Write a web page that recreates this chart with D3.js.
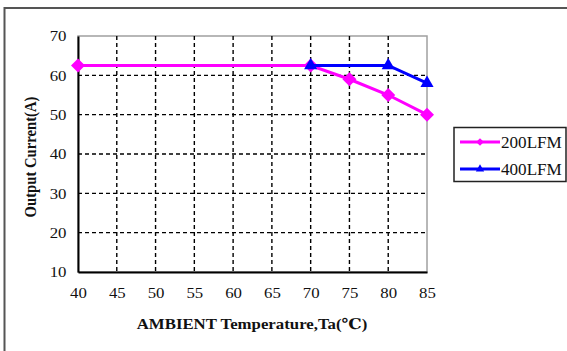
<!DOCTYPE html>
<html>
<head>
<meta charset="utf-8">
<script src="https://cdn.jsdelivr.net/npm/d3@7"></script>
<style>
  html, body { margin: 0; padding: 0; background: #fff; }
  svg { display: block; }
  svg text { font-family: 'Liberation Serif', 'Times New Roman', Times, 'DejaVu Serif', serif !important; fill: #111; }
</style>
</head>
<body>
<script>
// Ambient temperature categories (°C)
const temps = [40, 45, 50, 55, 60, 65, 70, 75, 80, 85];
// Output current (A) per airflow; null where no point is plotted
const lfm200 = [62.5, null, null, null, null, null, 62.5, 59, 55, 50];
const lfm400 = [null, null, null, null, null, null, 62.5, null, 62.5, 58];
const yTicks = [10, 20, 30, 40, 50, 60, 70];
const seriesNames = ["200LFM", "400LFM"];

const W = 567, H = 351;
const plot = { left: 78, right: 427, top: 36, bottom: 272 };
const FONT = "'Liberation Serif', 'Times New Roman', Times, 'DejaVu Serif', serif";
const STRETCH = "scale(1.12,1)"; // glyphs are slightly wider than tall

// square diamond marker (rotated square)
const squareDiamond = {
  draw(ctx, size) {
    const r = Math.sqrt(size / 2);
    ctx.moveTo(0, -r); ctx.lineTo(r, 0); ctx.lineTo(0, r); ctx.lineTo(-r, 0); ctx.closePath();
  }
};

const svg = d3.select("body").append("svg").attr("width", W).attr("height", H)
  .style("font-family", FONT);

// outer chart frame
svg.append("rect")
  .attr("x", 4.5).attr("y", 8)
  .attr("width", W + 10).attr("height", H + 10)
  .attr("fill", "#fff").attr("stroke", "#555").attr("stroke-width", 2);

const x = d3.scalePoint().domain(temps).range([plot.left, plot.right]);
const y = d3.scaleLinear().domain([10, 70]).range([plot.bottom, plot.top]);

// plot area border (gray)
svg.append("rect")
  .attr("x", plot.left).attr("y", plot.top)
  .attr("width", plot.right - plot.left).attr("height", plot.bottom - plot.top)
  .attr("fill", "none").attr("stroke", "#a0a0a0").attr("stroke-width", 1.5);

// dashed horizontal gridlines
svg.append("g").selectAll("line")
  .data(yTicks.filter(v => v > 10 && v < 70))
  .join("line")
  .attr("x1", plot.left).attr("x2", plot.right)
  .attr("y1", d => y(d)).attr("y2", d => y(d))
  .attr("stroke", "#000").attr("stroke-width", 1.4).attr("stroke-dasharray", "4,3");

// dashed vertical gridlines
svg.append("g").selectAll("line")
  .data(temps.slice(1, -1))
  .join("line")
  .attr("x1", d => x(d)).attr("x2", d => x(d))
  .attr("y1", plot.top).attr("y2", plot.bottom)
  .attr("stroke", "#000").attr("stroke-width", 1.4).attr("stroke-dasharray", "4,3");

// axes
const yAxis = svg.append("g")
  .attr("transform", `translate(${plot.left},0)`)
  .call(d3.axisLeft(y).tickValues(yTicks).tickSize(0).tickPadding(12));
const xAxis = svg.append("g")
  .attr("transform", `translate(0,${plot.bottom})`)
  .call(d3.axisBottom(x).tickSize(0).tickPadding(15));

[yAxis, xAxis].forEach(g => {
  g.attr("font-family", null).attr("font-size", null);
  g.select(".domain").attr("stroke", "#000").attr("stroke-width", 2);
  g.selectAll("text").style("font-size", "15px").style("font-family", FONT).attr("fill", "#111");
});
xAxis.selectAll("text").attr("transform", STRETCH);
yAxis.selectAll("text").attr("x", -11.5 / 1.12).attr("transform", STRETCH);

// axis titles
svg.append("text")
  .attr("transform", `translate(252,329) ${STRETCH}`)
  .attr("text-anchor", "middle").style("font-size", "15px").attr("font-weight", "bold")
  .text("AMBIENT Temperature,Ta(℃)");
svg.append("text")
  .attr("transform", "translate(36,157) rotate(-90) scale(1.05,1.12)")
  .attr("text-anchor", "middle").style("font-size", "14px").attr("font-weight", "bold")
  .text("Output Current(A)");

const line = d3.line()
  .x(d => x(d.t)).y(d => y(d.v));

const toPts = arr => temps.map((t, i) => ({ t, v: arr[i] })).filter(d => d.v !== null);
const pts200 = toPts(lfm200);
const pts400 = toPts(lfm400);

// 200LFM series
svg.append("path").datum(pts200)
  .attr("d", line).attr("fill", "none")
  .attr("stroke", "#ff00ff").attr("stroke-width", 3);
svg.append("g").selectAll("path")
  .data(pts200)
  .join("path")
  .attr("transform", d => `translate(${x(d.t)},${y(d.v)})`)
  .attr("d", d3.symbol(squareDiamond, 98)())
  .attr("fill", "#ff00ff");

// 400LFM series
svg.append("path").datum(pts400)
  .attr("d", line).attr("fill", "none")
  .attr("stroke", "#0000ff").attr("stroke-width", 3);
svg.append("g").selectAll("path")
  .data(pts400)
  .join("path")
  .attr("transform", d => `translate(${x(d.t)},${y(d.v)})`)
  .attr("d", d3.symbol(d3.symbolTriangle, 75)())
  .attr("fill", "#0000ff");

// legend
const lg = svg.append("g");
lg.append("rect")
  .attr("x", 454).attr("y", 127.5).attr("width", 112).attr("height", 54)
  .attr("fill", "#fff").attr("stroke", "#222").attr("stroke-width", 1.5);
const colors = ["#ff00ff", "#0000ff"];
const symbols = [d3.symbol(squareDiamond, 30)(), d3.symbol(d3.symbolTriangle, 30)()];
seriesNames.forEach((name, i) => {
  const cy = 142 + i * 27;
  lg.append("line").attr("x1", 460).attr("x2", 500).attr("y1", cy).attr("y2", cy)
    .attr("stroke", colors[i]).attr("stroke-width", 3);
  lg.append("path").attr("transform", `translate(480,${cy})`).attr("d", symbols[i]).attr("fill", colors[i]);
  lg.append("text").attr("transform", `translate(501,${cy + 5.5}) scale(1.07,1)`)
    .style("font-size", "16px").text(name);
});
</script>
</body>
</html>
